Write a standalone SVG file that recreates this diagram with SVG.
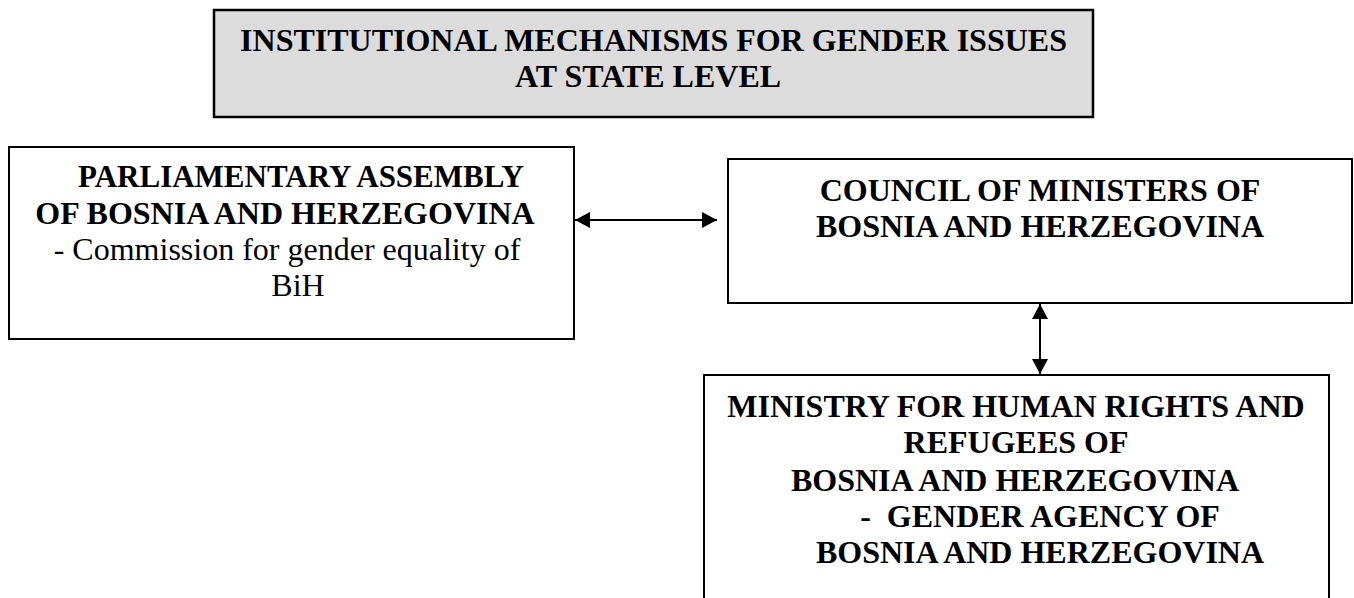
<svg xmlns="http://www.w3.org/2000/svg" width="1354" height="598" viewBox="0 0 1354 598">
  <style>
    .box { fill: #ffffff; stroke: #000000; stroke-width: 2; }
    .title { fill: #dcdcdc; stroke: #000000; stroke-width: 2.5; }
    .b { font-family: "Liberation Serif", "Times New Roman", serif; font-weight: bold; font-size: 32px; fill: #000; text-anchor: middle; }
    .r { font-family: "Liberation Serif", "Times New Roman", serif; font-size: 32px; fill: #000; text-anchor: middle; }
    .conn { stroke: #000; stroke-width: 2; fill: none; }
  </style>
  <defs>
    <marker id="ah" viewBox="0 0 15 16" refX="15" refY="8" markerWidth="15" markerHeight="16" markerUnits="userSpaceOnUse" orient="auto-start-reverse">
      <path d="M0,0 L15,8 L0,16 Z" fill="#000"/>
    </marker>
  </defs>
  <rect width="1354" height="598" fill="#ffffff"/>

  <g id="title">
    <rect class="title" x="214" y="10" width="879" height="107"/>
    <text class="b" x="653.5" y="51">INSTITUTIONAL MECHANISMS FOR GENDER ISSUES</text>
    <text class="b" x="648" y="87">AT STATE LEVEL</text>
  </g>

  <g id="parliament">
    <rect class="box" x="9" y="147" width="565" height="192"/>
    <text class="b" x="301" y="187" style="font-size:31px">PARLIAMENTARY ASSEMBLY</text>
    <text class="b" x="285" y="224">OF BOSNIA AND HERZEGOVINA</text>
    <text class="r" x="287" y="260">- Commission for gender equality of</text>
    <text class="r" x="298" y="296">BiH</text>
  </g>

  <g id="council">
    <rect class="box" x="728" y="159" width="624" height="144"/>
    <text class="b" x="1040" y="201">COUNCIL OF MINISTERS OF</text>
    <text class="b" x="1040" y="237">BOSNIA AND HERZEGOVINA</text>
  </g>

  <g id="ministry">
    <rect class="box" x="704" y="375" width="625" height="240"/>
    <text class="b" x="1016" y="417">MINISTRY FOR HUMAN RIGHTS AND</text>
    <text class="b" x="1016" y="453">REFUGEES OF</text>
    <text class="b" x="1015" y="491">BOSNIA AND HERZEGOVINA</text>
    <text class="b" x="1040" y="527" style="white-space:pre">-  GENDER AGENCY OF</text>
    <text class="b" x="1040" y="563">BOSNIA AND HERZEGOVINA</text>
  </g>

  <g id="connectors">
    <line class="conn" x1="575" y1="220" x2="717" y2="220" marker-start="url(#ah)" marker-end="url(#ah)"/>
    <line class="conn" x1="1040" y1="304" x2="1040" y2="374" marker-start="url(#ah)" marker-end="url(#ah)"/>
  </g>
</svg>
